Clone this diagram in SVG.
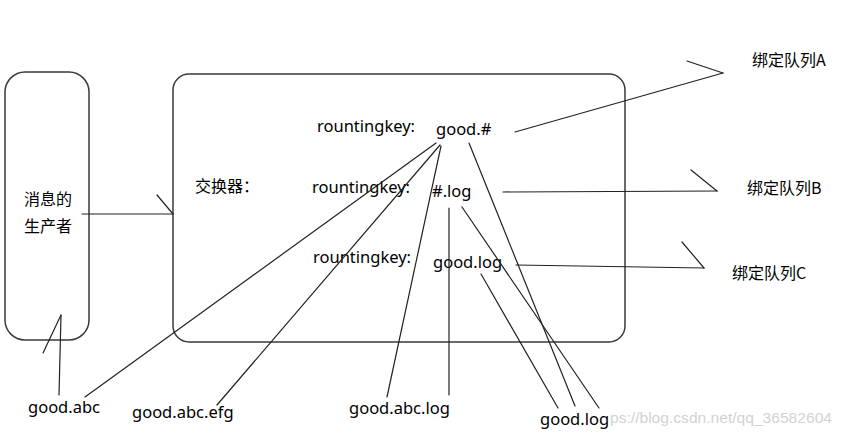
<svg xmlns="http://www.w3.org/2000/svg" width="842" height="437" viewBox="0 0 842 437">
<style>
.box{fill:none;stroke:#3a3a3a;stroke-width:1.5}
.ln{stroke:#222;stroke-width:1.2;fill:none;stroke-linecap:round}
.t{font-family:"Noto Sans","Liberation Sans",sans-serif;font-size:16.5px;fill:#000}
.c{font-family:"Noto Sans CJK SC","Noto Sans",sans-serif;font-size:16px;fill:#000}
.wm{font-family:"Liberation Sans",sans-serif;font-size:14px;fill:#d2d2d2}
</style>
<rect width="842" height="437" fill="#fff"/>
<text class="wm" x="610" y="423" textLength="222" lengthAdjust="spacingAndGlyphs">ps://blog.csdn.net/qq_36582604</text>
<g id="producer">
<rect class="box" x="5" y="72" width="84" height="268" rx="20"/>
<text class="c" x="24" y="205">消息的</text>
<text class="c" x="24" y="232">生产者</text>
</g>
<g id="exchange">
<rect class="box" x="173" y="74" width="452" height="268" rx="16"/>
<text class="c" x="195" y="192">交换器：</text>
<text class="t" x="317" y="132">rountingkey:</text>
<text class="t" x="312" y="193">rountingkey:</text>
<text class="t" x="313" y="263">rountingkey:</text>
</g>
<g id="key-good-hash"><text class="t" x="436" y="135">good.#</text></g>
<g id="key-hash-log"><text class="t" x="432" y="197">#.log</text></g>
<g id="key-good-log"><text class="t" x="433" y="268">good.log</text></g>
<g id="queueA"><text class="c" x="752" y="66">绑定队列A</text></g>
<g id="queueB"><text class="c" x="747" y="194">绑定队列B</text></g>
<g id="queueC"><text class="c" x="732" y="279">绑定队列C</text></g>
<g id="msg-good-abc"><text class="t" x="28" y="413">good.abc</text></g>
<g id="msg-good-abc-efg"><text class="t" x="132" y="418">good.abc.efg</text></g>
<g id="msg-good-abc-log"><text class="t" x="349" y="414">good.abc.log</text></g>
<g id="msg-good-log"><text class="t" x="540" y="425">good.log</text></g>
<g id="connectors">
<line class="ln" x1="82" y1="214" x2="173" y2="214"/>
<line class="ln" x1="157" y1="195" x2="173" y2="214"/>
<line class="ln" x1="59" y1="395" x2="61" y2="315"/>
<line class="ln" x1="43" y1="353" x2="61" y2="315"/>
<line class="ln" x1="515" y1="132" x2="723" y2="73"/>
<line class="ln" x1="687" y1="61" x2="723" y2="73"/>
<line class="ln" x1="503" y1="192" x2="717" y2="191"/>
<line class="ln" x1="691" y1="170" x2="717" y2="191"/>
<line class="ln" x1="516" y1="265" x2="704" y2="268"/>
<line class="ln" x1="682" y1="242" x2="704" y2="268"/>
<line class="ln" x1="436" y1="143" x2="85" y2="397"/>
<line class="ln" x1="440" y1="145" x2="217" y2="405"/>
<line class="ln" x1="441" y1="146" x2="387" y2="397"/>
<line class="ln" x1="449" y1="208" x2="449" y2="395"/>
<line class="ln" x1="469" y1="143" x2="575" y2="406"/>
<line class="ln" x1="462" y1="207" x2="599" y2="408"/>
<line class="ln" x1="481" y1="274" x2="558" y2="408"/>
</g>
</svg>
